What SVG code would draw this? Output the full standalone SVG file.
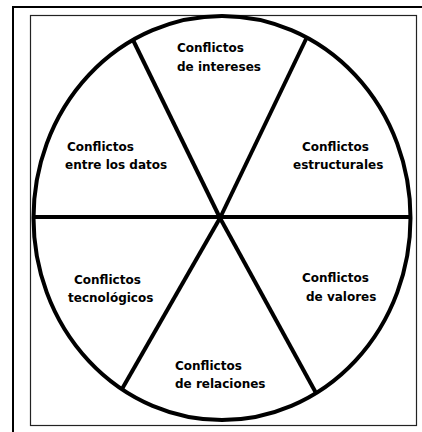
<svg xmlns="http://www.w3.org/2000/svg" width="422" height="432" viewBox="0 0 422 432">
<style>
.frame{fill:none;stroke:#000;stroke-width:2}
.inner{fill:none;stroke:#222;stroke-width:1.2}
.ln{fill:none;stroke:#000;stroke-width:4;stroke-linecap:butt}
text{font-family:"DejaVu Sans",sans-serif;font-weight:bold;font-size:12px;fill:#000}
</style>
<rect width="422" height="432" fill="#fff"/>
<path class="frame" d="M13,432 V7 H422"/>
<rect class="inner" x="30.5" y="15.5" width="386" height="410"/>
<g id="connectors">
<ellipse class="ln" cx="222" cy="218" rx="188.5" ry="202"/>
<line class="ln" x1="34" y1="217" x2="410" y2="217"/>
<line class="ln" x1="220" y1="218" x2="133" y2="40"/>
<line class="ln" x1="220" y1="218" x2="307" y2="37"/>
<line class="ln" x1="220" y1="218" x2="122" y2="389"/>
<line class="ln" x1="220" y1="218" x2="316" y2="393"/>
</g>
<g id="intereses"><text x="177" y="52">Conflictos</text><text x="177" y="71">de intereses</text></g>
<g id="estructurales"><text x="302" y="151">Conflictos</text><text x="293" y="169">estructurales</text></g>
<g id="datos"><text x="67" y="151">Conflictos</text><text x="65" y="169">entre los datos</text></g>
<g id="tecnologicos"><text x="74" y="284">Conflictos</text><text x="68" y="302">tecnológicos</text></g>
<g id="valores"><text x="302" y="282">Conflictos</text><text x="306" y="301">de valores</text></g>
<g id="relaciones"><text x="175" y="370">Conflictos</text><text x="175" y="388">de relaciones</text></g>
</svg>
